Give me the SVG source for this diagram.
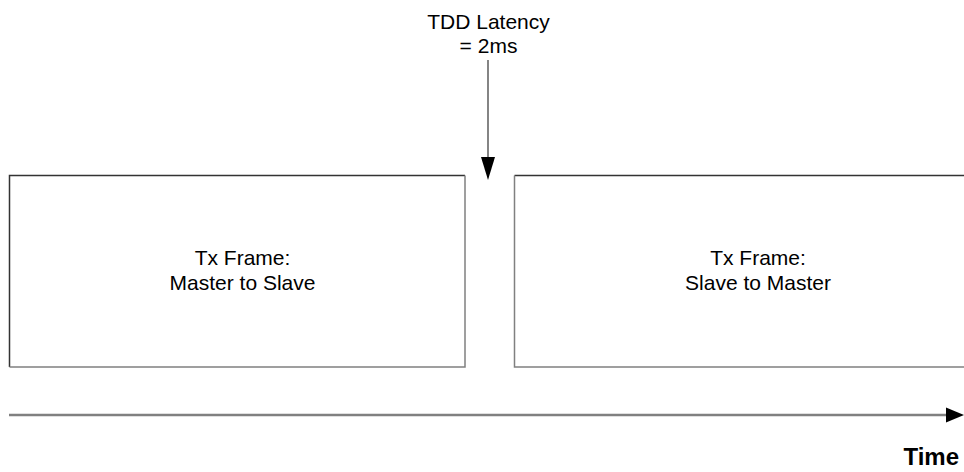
<svg xmlns="http://www.w3.org/2000/svg" width="964" height="472" viewBox="0 0 964 472">
<style>
.t{font-family:"Liberation Sans",Arial,sans-serif;font-size:21px;fill:#000;text-anchor:middle}
.b{font-family:"Liberation Sans",Arial,sans-serif;font-size:24px;font-weight:bold;fill:#000;text-anchor:end}
.dk{stroke:#333;stroke-width:1.5;fill:none}
.lt{stroke:#808080;stroke-width:1.5;fill:none}
</style>
<g id="frame1">
<path class="dk" d="M9.5,367 V175.5 H465"/>
<path class="lt" d="M465,175.5 V367 H9.5"/>
<text class="t" x="242.5" y="265">Tx Frame:</text>
<text class="t" x="242.5" y="290">Master to Slave</text>
</g>
<g id="frame2">
<path class="dk" d="M514.5,175.5 H964"/>
<path class="lt" d="M514.5,175.5 V367 H964"/>
<text class="t" x="758" y="265">Tx Frame:</text>
<text class="t" x="758" y="290">Slave to Master</text>
</g>
<g id="latency">
<text class="t" x="488.5" y="29">TDD Latency</text>
<text class="t" x="488.5" y="53">= 2ms</text>
</g>
<g id="time-label">
<text class="b" x="959" y="465">Time</text>
</g>
<g id="connectors">
<line x1="488" y1="60" x2="488" y2="158" stroke="#333" stroke-width="1.2"/>
<path d="M481,157 L495,157 L488,180 Z" fill="#000"/>
<line x1="9" y1="415" x2="947" y2="415" stroke="#808080" stroke-width="2.5"/>
<path d="M946,407.5 L964,415 L946,422.5 Z" fill="#000"/>
</g>
</svg>
